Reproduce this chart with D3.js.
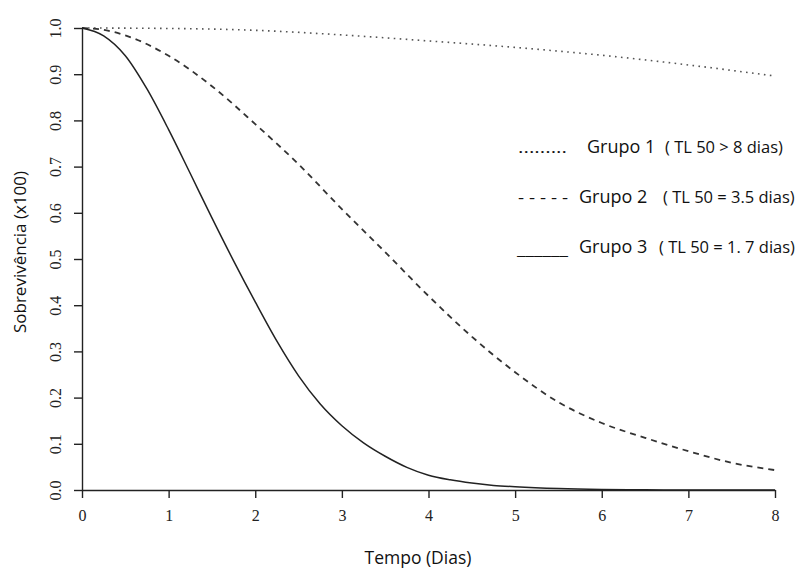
<!DOCTYPE html>
<html>
<head>
<meta charset="utf-8">
<script src="https://cdn.jsdelivr.net/npm/d3@7"></script>
<style>
  body { margin: 0; background: #fff; }
  svg { display: block; }
</style>
</head>
<body>
<svg id="chart"></svg>
<script>
// values (time in days, survival fraction)
var g1Time = [0, 1, 2, 3, 4, 5, 6, 7, 8];
var g1Surv = [1.0, 0.999, 0.995, 0.985, 0.972, 0.958, 0.941, 0.92, 0.896];

var g2Time = [0, 0.25, 0.5, 1, 1.5, 2, 2.5, 3, 3.5, 4, 4.5, 5, 5.5, 6, 6.5, 7, 7.5, 8];
var g2Surv = [1.0, 0.996, 0.984, 0.94, 0.874, 0.792, 0.705, 0.608, 0.515, 0.42, 0.332, 0.255, 0.19, 0.145, 0.113, 0.084, 0.059, 0.043];

var g3Time = [0, 0.25, 0.5, 0.75, 1, 1.25, 1.5, 1.75, 2, 2.25, 2.5, 2.75, 3, 3.25, 3.5, 3.75, 4, 4.25, 4.5, 4.75, 5, 5.5, 6, 6.5, 7, 8];
var g3Surv = [1.0, 0.983, 0.94, 0.868, 0.78, 0.685, 0.589, 0.496, 0.407, 0.322, 0.247, 0.186, 0.139, 0.102, 0.073, 0.049, 0.032, 0.022, 0.015, 0.01, 0.007, 0.003, 0.001, 0.0003, 0, 0];

var xTicks = [0, 1, 2, 3, 4, 5, 6, 7, 8];
var yTicks = [0, 0.1, 0.2, 0.3, 0.4, 0.5, 0.6, 0.7, 0.8, 0.9, 1.0];

var legendKeys = [".........", "- - - - -", "______"];
var legendNames = ["Grupo 1", "Grupo 2", "Grupo 3"];
var legendNotes = ["( TL 50 > 8 dias)", "( TL 50 = 3.5 dias)", "( TL 50 = 1. 7 dias)"];

var W = 798, H = 569;
var svg = d3.select("#chart").attr("width", W).attr("height", H);

var x = d3.scaleLinear().domain([0, 8]).range([82, 775]);
var y = d3.scaleLinear().domain([0, 1]).range([490, 28]);

var serif = "'Liberation Serif', 'Times New Roman', serif";
var sans = "'Open Sans', 'Liberation Sans', sans-serif";

// x axis
var xa = svg.append("g")
    .attr("transform", "translate(0," + y(0) + ")")
    .call(d3.axisBottom(x).tickValues(xTicks).tickSize(8).tickSizeOuter(0).tickPadding(0));
xa.attr("font-size", null).attr("font-family", null);
xa.selectAll("text")
    .attr("y", 31).attr("dy", null)
    .style("font-family", serif).style("font-size", "16px").attr("fill", "#222");

// y axis
var ya = svg.append("g")
    .attr("transform", "translate(" + x(0) + ",0)")
    .call(d3.axisLeft(y).tickValues(yTicks).tickFormat(d3.format(".1f")).tickSize(8).tickSizeOuter(0));
ya.attr("font-size", null).attr("font-family", null);
ya.selectAll("text")
    .attr("x", null).attr("dy", null)
    .attr("text-anchor", "middle")
    .attr("transform", "translate(-21,0) rotate(-90)")
    .style("font-family", serif).style("font-size", "16px").attr("fill", "#222");

svg.selectAll(".domain, .tick line").attr("stroke", "#222").attr("stroke-width", 1.4);

// curves
var line = d3.line()
    .curve(d3.curveMonotoneX)
    .x(function(d) { return x(d[0]); })
    .y(function(d) { return y(d[1]); });

svg.append("path")
    .datum(d3.zip(g1Time, g1Surv))
    .attr("fill", "none").attr("stroke", "#555").attr("stroke-width", 1.6)
    .attr("stroke-dasharray", "1.6,4.4")
    .attr("d", line);

svg.append("path")
    .datum(d3.zip(g2Time, g2Surv))
    .attr("fill", "none").attr("stroke", "#333").attr("stroke-width", 1.8)
    .attr("stroke-dasharray", "6,5")
    .attr("d", line);

svg.append("path")
    .datum(d3.zip(g3Time, g3Surv))
    .attr("fill", "none").attr("stroke", "#222").attr("stroke-width", 1.5)
    .attr("d", line);

// legend (typed as text, like the original)
var legY = [153, 203, 253];
var keyX = [518, 518, 517];
var keyW = [49, 50, 51];
var nameX = [587, 579, 579];
var noteX = [665, 663, 659];
legendNames.forEach(function(n, i) {
    svg.append("text").attr("x", keyX[i]).attr("y", legY[i] + (i == 2 ? 2 : 0))
        .attr("textLength", keyW[i]).attr("lengthAdjust", "spacingAndGlyphs")
        .style("font-family", sans).style("font-size", "16px").attr("fill", "#111")
        .text(legendKeys[i]);
    svg.append("text").attr("x", nameX[i]).attr("y", legY[i])
        .style("font-family", sans).style("font-size", "18px").attr("fill", "#111")
        .text(n);
    svg.append("text").attr("x", noteX[i]).attr("y", legY[i])
        .style("font-family", sans).style("font-size", "16.5px").attr("fill", "#111")
        .text(legendNotes[i]);
});

// axis titles
svg.append("text")
    .attr("transform", "translate(26,252) rotate(-90)")
    .attr("text-anchor", "middle")
    .style("font-family", sans).style("font-size", "17px").attr("fill", "#111")
    .text("Sobrevivência (x100)");

svg.append("text")
    .attr("x", 418).attr("y", 564)
    .attr("text-anchor", "middle")
    .style("font-family", sans).style("font-size", "17.5px").attr("fill", "#111")
    .text("Tempo (Dias)");
</script>
</body>
</html>
